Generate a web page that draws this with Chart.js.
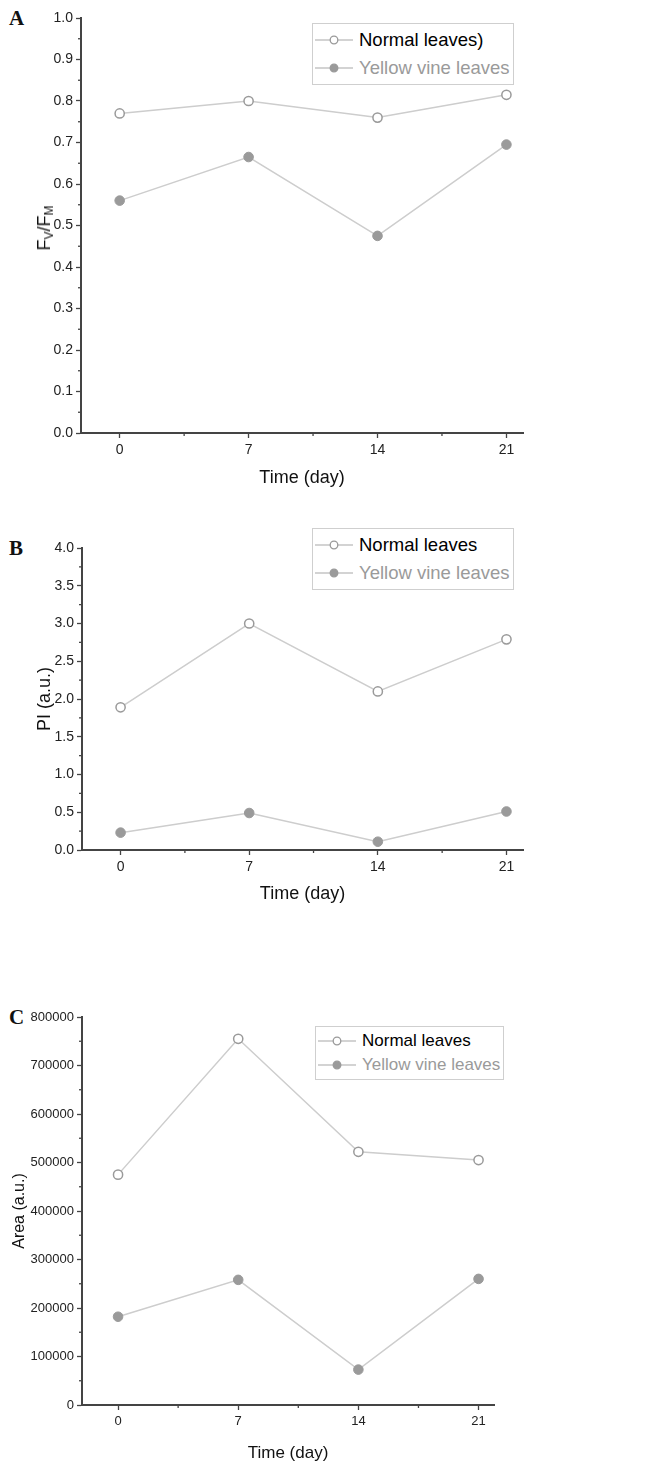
<!DOCTYPE html>
<html><head><meta charset="utf-8">
<script src="https://cdn.jsdelivr.net/npm/chart.js@4.4.1/dist/chart.umd.min.js"></script>
<style>
html,body{margin:0;padding:0;background:#fff;}
body{width:654px;height:1465px;position:relative;overflow:hidden;font-family:"Liberation Sans",Arial,sans-serif;}
canvas{position:absolute;left:0;}
.letter{position:absolute;left:9px;font-family:"Liberation Serif","Times New Roman",serif;font-weight:bold;font-size:21px;color:#111;}
.legend{position:absolute;border:1px solid #cfcfcf;background:#fff;padding:2px 3px 2px 1px;}
.legend .row{display:flex;align-items:center;white-space:nowrap;}
.legend svg{margin-right:5px;}
.ytitle{position:absolute;font-size:18px;color:#111;transform:translate(-50%,-50%) rotate(-90deg);white-space:nowrap;}
.ytitle sub{font-size:12px;vertical-align:-3px;}
</style></head>
<body>
<div class="letter" style="top:6px">A</div>
<div class="letter" style="top:536px">B</div>
<div class="letter" style="top:1005px">C</div>
<canvas id="cA" width="654" height="490" style="top:0"></canvas>
<canvas id="cB" width="654" height="415" style="top:490px"></canvas>
<canvas id="cC" width="654" height="560" style="top:905px"></canvas>
<div class="ytitle" style="left:45px;top:228px">F<sub>V</sub>/F<sub>M</sub></div>
<div class="legend" id="legA" style="left:312px;top:23px;font-size:18.5px;line-height:28px"></div>
<div class="legend" id="legB" style="left:312px;top:528px;font-size:18.5px;line-height:28px"></div>
<div class="legend" id="legC" style="left:315px;top:1026px;font-size:17px;line-height:24px"></div>
<script>
// ---- data ----
const days = [0, 7, 14, 21];
const fvfmNormal = [0.77, 0.80, 0.76, 0.815];
const fvfmYellow = [0.56, 0.665, 0.475, 0.695];
const piNormal = [1.89, 3.0, 2.1, 2.79];
const piYellow = [0.23, 0.49, 0.11, 0.51];
const areaNormal = [475000, 755000, 522000, 505000];
const areaYellow = [182000, 258000, 73000, 260000];
const legendNamesA = ["Normal leaves)", "Yellow vine leaves"];
const legendNamesBC = ["Normal leaves", "Yellow vine leaves"];
const xTitle = "Time (day)";
const yTitleB = "PI (a.u.)";
const yTitleC = "Area (a.u.)";

const AXIS = '#444';
const LINE = '#cdcdcd';
const MARK = '#9a9a9a';

function pts(ys){ return days.map((d,i)=>({x:d,y:ys[i]})); }

const minorTicks = {
  id:'minorTicks',
  afterDraw(chart){
    const ctx = chart.ctx;
    ctx.save();
    ctx.strokeStyle = AXIS; ctx.lineWidth = 1.3;
    const xs = chart.scales.x, ys = chart.scales.y;
    const xt = xs.ticks.map(t=>t.value);
    for(let i=0;i<xt.length-1;i++){
      const px = xs.getPixelForValue((xt[i]+xt[i+1])/2);
      ctx.beginPath(); ctx.moveTo(px, xs.top); ctx.lineTo(px, xs.top+3); ctx.stroke();
    }
    const yt = ys.ticks.map(t=>t.value);
    for(let i=0;i<yt.length-1;i++){
      const py = ys.getPixelForValue((yt[i]+yt[i+1])/2);
      ctx.beginPath(); ctx.moveTo(ys.right, py); ctx.lineTo(ys.right-3, py); ctx.stroke();
    }
    ctx.restore();
  }
};

function makeChart(id, cfg){
  const ds = [
    {data:pts(cfg.normal), borderColor:LINE, borderWidth:1.5, pointRadius:4.6, pointBorderWidth:1.5,
     pointBorderColor:MARK, pointBackgroundColor:'#fff', tension:0},
    {data:pts(cfg.yellow), borderColor:LINE, borderWidth:1.5, pointRadius:4.8, pointBorderWidth:1,
     pointBorderColor:MARK, pointBackgroundColor:MARK, tension:0}
  ];
  return new Chart(document.getElementById(id), {
    type:'line',
    data:{datasets:ds},
    options:{
      responsive:false, animation:false,
      layout:{padding:{top:cfg.top, right:cfg.right, left:0, bottom:0}},
      plugins:{legend:{display:false}, tooltip:{enabled:false}},
      scales:{
        x:{type:'linear', min:-2.1, max:21.9,
           afterBuildTicks(s){ s.ticks = days.map(v=>({value:v})); },
           afterFit(s){ s.height = cfg.xh; },
           grid:{drawOnChartArea:false, drawTicks:true, tickLength:5, tickColor:AXIS, tickWidth:1.3},
           border:{color:AXIS, width:2},
           ticks:{color:'#222', font:{family:'Liberation Sans', size:cfg.xfs}, padding:4, maxRotation:0,
                  callback:v=>String(v)},
           title:{display:true, text:xTitle, color:'#111', font:{family:'Liberation Sans', size:cfg.xts},
                  padding:{top:0,bottom:cfg.xtp}}
        },
        y:{type:'linear', min:cfg.min, max:cfg.max,
           ticks:{stepSize:cfg.step, color:'#222', font:{family:'Liberation Sans', size:cfg.yfs}, padding:3,
                  callback:cfg.fmt},
           afterFit(s){ s.width = cfg.yw; },
           grid:{drawOnChartArea:false, drawTicks:true, tickLength:5, tickColor:AXIS, tickWidth:1.3},
           border:{color:AXIS, width:2},
           title:{display:!!cfg.ytitle, text:cfg.ytitle||'', color:'#111',
                  font:{family:'Liberation Sans', size:cfg.yts||18}, padding:{top:cfg.ytp||0,bottom:0}}
        }
      }
    },
    plugins:[minorTicks]
  });
}

makeChart('cA', {normal:fvfmNormal, yellow:fvfmYellow, min:0, max:1, step:0.1,
  fmt:v=>v.toFixed(1), yfs:14, xfs:14, top:18, right:131, yw:81, xh:57, xts:18, xtp:1});
makeChart('cB', {normal:piNormal, yellow:piYellow, min:0, max:4, step:0.5,
  fmt:v=>v.toFixed(1), yfs:14, xfs:14, top:58, right:131, yw:82, xh:55, xts:18, xtp:0,
  ytitle:yTitleB, ytp:34});
makeChart('cC', {normal:areaNormal, yellow:areaYellow, min:0, max:800000, step:100000,
  fmt:v=>String(v), yfs:13, xfs:13, top:112, right:160, yw:82, xh:60, xts:17, xtp:1,
  ytitle:yTitleC, yts:16, ytp:10});

function legend(id, names){
  const el = document.getElementById(id);
  names.forEach((n,i)=>{
    const row = document.createElement('div'); row.className='row';
    const fill = i===0 ? '#fff' : MARK;
    row.innerHTML = '<svg width="40" height="12"><line x1="1" y1="6" x2="39" y2="6" stroke="#c4c4c4" stroke-width="1.5"/>'+
      '<circle cx="20" cy="6" r="3.8" fill="'+fill+'" stroke="'+MARK+'" stroke-width="1.3"/></svg>';
    const sp = document.createElement('span'); sp.textContent = n;
    sp.style.color = i===0 ? '#000' : '#9a9a9a';
    row.appendChild(sp); el.appendChild(row);
  });
}
legend('legA', legendNamesA);
legend('legB', legendNamesBC);
legend('legC', legendNamesBC);
</script>
</body></html>
